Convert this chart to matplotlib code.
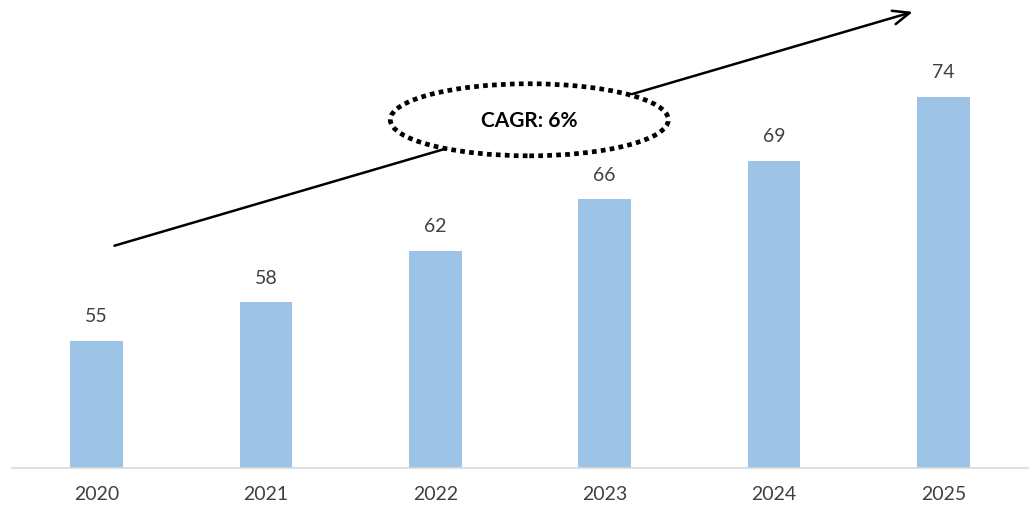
import matplotlib.pyplot as plt
from matplotlib.patches import Ellipse

years = ["2020", "2021", "2022", "2023", "2024", "2025"]
values = [55, 58, 62, 66, 69, 74]
cagr_label = "CAGR: 6%"

plt.rcParams["font.family"] = ["Lato", "DejaVu Sans"]

fig = plt.figure(figsize=(10.32, 5.06), dpi=100)
ax = fig.add_axes([12 / 1032, 37 / 506, 1016 / 1032, 469 / 506])

x = range(len(years))
bars = ax.bar(x, values, width=0.31, color="#9DC3E6", zorder=2)
ax.set_xlim(-0.5, 5.5)
ax.set_ylim(45.1, 81.6)

for b, v in zip(bars, values):
    ax.annotate(str(v), (b.get_x() + b.get_width() / 2, v), xytext=(0, 12),
                textcoords="offset points", ha="center", va="bottom",
                fontsize=14, color="#404040")

ax.set_xticks(list(x))
ax.set_xticklabels(years, fontsize=14, color="#404040")
ax.tick_params(axis="x", length=0, pad=12)
ax.set_yticks([])
for s in ["top", "right", "left"]:
    ax.spines[s].set_visible(False)
ax.spines["bottom"].set_color("#D9D9D9")
ax.spines["bottom"].set_linewidth(1.2)

# growth arrow
ax.annotate("", xy=(4.82, 80.6), xytext=(0.105, 62.4),
            arrowprops=dict(arrowstyle="->,head_length=1.2,head_width=0.5",
                            color="black", lw=1.8, shrinkA=0, shrinkB=0),
            zorder=3)

ell = Ellipse((2.555, 72.2), 1.642, 5.61, facecolor="white", edgecolor="black",
              lw=3.4, linestyle=(0, (1, 0.9)), zorder=4)
ax.add_patch(ell)
ax.text(2.555, 72.2, cagr_label, ha="center", va="center", fontsize=15,
        fontweight="bold", color="black", zorder=5)

fig.savefig("out.png", dpi=100)
